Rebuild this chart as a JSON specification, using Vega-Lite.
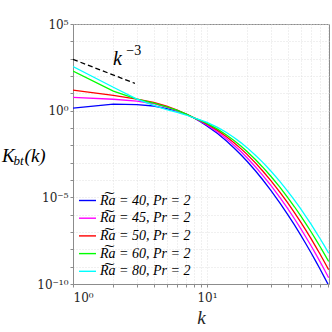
{
  "$schema": "https://vega.github.io/schema/vega-lite/v6.json",
  "width": 256,
  "height": 260,
  "autosize": "none",
  "padding": {"left": 73, "top": 24, "right": 3, "bottom": 48},
  "background": "white",
  "config": {
    "view": {"stroke": "#8c8c8c", "strokeWidth": 1},
    "axis": {
      "domainColor": "#8c8c8c",
      "tickColor": "#8c8c8c",
      "gridColor": "#d9d9d9",
      "gridDash": [1, 2],
      "gridWidth": 0.8,
      "labelFont": "DejaVu Serif",
      "labelFontSize": 12,
      "labelColor": "#262626",
      "titleFont": "Liberation Serif",
      "titleColor": "#262626"
    }
  },
  "datasets": {
    "curves": [
      {"k":1,"K":1.41,"s":"40"},{"k":2,"K":2.40,"s":"40"},{"k":3,"K":2.24,"s":"40"},{"k":4,"K":1.86,"s":"40"},{"k":5,"K":1.32,"s":"40"},{"k":6,"K":0.933,"s":"40"},{"k":7,"K":0.631,"s":"40"},{"k":8,"K":0.380,"s":"40"},{"k":9,"K":0.225,"s":"40"},{"k":10,"K":0.133,"s":"40"},{"k":12,"K":0.0478,"s":"40"},{"k":14,"K":0.0177,"s":"40"},{"k":16,"K":6.86e-3,"s":"40"},{"k":18,"K":2.76e-3,"s":"40"},{"k":20,"K":1.16e-3,"s":"40"},{"k":23,"K":3.40e-4,"s":"40"},{"k":26,"K":1.07e-4,"s":"40"},{"k":30,"K":2.55e-5,"s":"40"},{"k":35,"K":4.84e-6,"s":"40"},{"k":40,"K":1.05e-6,"s":"40"},{"k":45,"K":2.56e-7,"s":"40"},{"k":50,"K":6.84e-8,"s":"40"},{"k":55,"K":1.97e-8,"s":"40"},{"k":60,"K":6.12e-9,"s":"40"},{"k":65,"K":2.03e-9,"s":"40"},{"k":70,"K":7.08e-10,"s":"40"},{"k":75,"K":2.59e-10,"s":"40"},{"k":81,"K":8.26e-11,"s":"40"},
      {"k":1,"K":5.89,"s":"45"},{"k":2,"K":4.57,"s":"45"},{"k":3,"K":3.55,"s":"45"},{"k":4,"K":2.51,"s":"45"},{"k":5,"K":1.585,"s":"45"},{"k":6,"K":0.977,"s":"45"},{"k":7,"K":0.603,"s":"45"},{"k":8,"K":0.380,"s":"45"},{"k":9,"K":0.240,"s":"45"},{"k":10,"K":0.151,"s":"45"},{"k":12,"K":0.0594,"s":"45"},{"k":14,"K":0.0239,"s":"45"},{"k":16,"K":9.86e-3,"s":"45"},{"k":18,"K":4.22e-3,"s":"45"},{"k":20,"K":1.86e-3,"s":"45"},{"k":23,"K":5.81e-4,"s":"45"},{"k":26,"K":1.93e-4,"s":"45"},{"k":30,"K":4.89e-5,"s":"45"},{"k":35,"K":9.93e-6,"s":"45"},{"k":40,"K":2.28e-6,"s":"45"},{"k":45,"K":5.81e-7,"s":"45"},{"k":50,"K":1.61e-7,"s":"45"},{"k":55,"K":4.83e-8,"s":"45"},{"k":60,"K":1.55e-8,"s":"45"},{"k":65,"K":5.27e-9,"s":"45"},{"k":70,"K":1.88e-9,"s":"45"},{"k":75,"K":7.08e-10,"s":"45"},{"k":81,"K":2.31e-10,"s":"45"},
      {"k":1,"K":15.5,"s":"50"},{"k":2,"K":7.59,"s":"50"},{"k":3,"K":4.68,"s":"50"},{"k":4,"K":3.02,"s":"50"},{"k":5,"K":1.82,"s":"50"},{"k":6,"K":1.096,"s":"50"},{"k":7,"K":0.631,"s":"50"},{"k":8,"K":0.380,"s":"50"},{"k":9,"K":0.255,"s":"50"},{"k":10,"K":0.169,"s":"50"},{"k":12,"K":0.0726,"s":"50"},{"k":14,"K":0.0314,"s":"50"},{"k":16,"K":0.0138,"s":"50"},{"k":18,"K":6.25e-3,"s":"50"},{"k":20,"K":2.91e-3,"s":"50"},{"k":23,"K":9.68e-4,"s":"50"},{"k":26,"K":3.40e-4,"s":"50"},{"k":30,"K":9.20e-5,"s":"50"},{"k":35,"K":2.00e-5,"s":"50"},{"k":40,"K":4.90e-6,"s":"50"},{"k":45,"K":1.31e-6,"s":"50"},{"k":50,"K":3.82e-7,"s":"50"},{"k":55,"K":1.19e-7,"s":"50"},{"k":60,"K":3.97e-8,"s":"50"},{"k":65,"K":1.40e-8,"s":"50"},{"k":70,"K":5.18e-9,"s":"50"},{"k":75,"K":2.00e-9,"s":"50"},{"k":81,"K":6.76e-10,"s":"50"},
      {"k":1,"K":195,"s":"60"},{"k":2,"K":13.5,"s":"60"},{"k":3,"K":4.68,"s":"60"},{"k":4,"K":2.75,"s":"60"},{"k":5,"K":1.66,"s":"60"},{"k":6,"K":1.047,"s":"60"},{"k":7,"K":0.631,"s":"60"},{"k":8,"K":0.380,"s":"60"},{"k":9,"K":0.267,"s":"60"},{"k":10,"K":0.185,"s":"60"},{"k":12,"K":0.0857,"s":"60"},{"k":14,"K":0.0396,"s":"60"},{"k":16,"K":0.0185,"s":"60"},{"k":18,"K":8.81e-3,"s":"60"},{"k":20,"K":4.30e-3,"s":"60"},{"k":23,"K":1.52e-3,"s":"60"},{"k":26,"K":5.68e-4,"s":"60"},{"k":30,"K":1.64e-4,"s":"60"},{"k":35,"K":3.86e-5,"s":"60"},{"k":40,"K":1.0e-5,"s":"60"},{"k":45,"K":2.86e-6,"s":"60"},{"k":50,"K":8.75e-7,"s":"60"},{"k":55,"K":2.87e-7,"s":"60"},{"k":60,"K":9.98e-8,"s":"60"},{"k":65,"K":3.67e-8,"s":"60"},{"k":70,"K":1.41e-8,"s":"60"},{"k":75,"K":5.65e-9,"s":"60"},{"k":81,"K":1.99e-9,"s":"60"},
      {"k":1,"K":347,"s":"80"},{"k":2,"K":22.4,"s":"80"},{"k":3,"K":4.68,"s":"80"},{"k":4,"K":2.0,"s":"80"},{"k":5,"K":1.15,"s":"80"},{"k":6,"K":0.794,"s":"80"},{"k":7,"K":0.562,"s":"80"},{"k":8,"K":0.380,"s":"80"},{"k":9,"K":0.287,"s":"80"},{"k":10,"K":0.210,"s":"80"},{"k":12,"K":0.108,"s":"80"},{"k":14,"K":0.0546,"s":"80"},{"k":16,"K":0.0274,"s":"80"},{"k":18,"K":0.0139,"s":"80"},{"k":20,"K":7.13e-3,"s":"80"},{"k":23,"K":2.71e-3,"s":"80"},{"k":26,"K":1.07e-3,"s":"80"},{"k":30,"K":3.32e-4,"s":"80"},{"k":35,"K":8.36e-5,"s":"80"},{"k":40,"K":2.31e-5,"s":"80"},{"k":45,"K":6.90e-6,"s":"80"},{"k":50,"K":2.21e-6,"s":"80"},{"k":55,"K":7.55e-7,"s":"80"},{"k":60,"K":2.72e-7,"s":"80"},{"k":65,"K":1.03e-7,"s":"80"},{"k":70,"K":4.07e-8,"s":"80"},{"k":75,"K":1.68e-8,"s":"80"},{"k":81,"K":6.05e-9,"s":"80"}
    ]
  },
  "encoding": {
    "x": {
      "field": "k", "type": "quantitative",
      "scale": {"type": "log", "domain": [1, 81.5], "nice": false},
      "axis": {
        "values": [1,2,3,4,5,6,7,8,9,10,20,30,40,50,60,70,80],
        "labelExpr": "datum.value == 1 ? '10⁰' : datum.value == 10 ? '10¹' : ''",
        "grid": true, "tickSize": 3, "labelPadding": 5,
        "title": "k", "titleFontSize": 19, "titleFontStyle": "italic", "titleFontWeight": "normal", "titlePadding": 5
      }
    },
    "y": {
      "field": "K", "type": "quantitative",
      "scale": {"type": "log", "domain": [1e-10, 1e5], "nice": false},
      "axis": {
        "values": [1e-10,1e-9,1e-8,1e-7,1e-6,1e-5,1e-4,1e-3,1e-2,1e-1,1,10,100,1000,1e4,1e5],
        "labelExpr": "round(log(datum.value)/LN10) == 5 ? '10⁵' : round(log(datum.value)/LN10) == 0 ? '10⁰' : round(log(datum.value)/LN10) == -5 ? '10⁻⁵' : round(log(datum.value)/LN10) == -10 ? '10⁻¹⁰' : ''",
        "grid": true, "tickSize": 3, "labelPadding": 2, "title": null
      }
    }
  },
  "layer": [
    {
      "data": {"name": "curves"},
      "mark": {"type": "line", "strokeWidth": 1.3, "clip": true},
      "encoding": {
        "color": {
          "field": "s", "type": "nominal",
          "scale": {"domain": ["40","45","50","60","80"], "range": ["#0000ff","#ff00ff","#ff0000","#00ff00","#00ffff"]},
          "legend": {
            "orient": "none", "legendX": 5, "legendY": 167, "title": null,
            "symbolType": "stroke", "symbolSize": 289, "symbolStrokeWidth": 1.4,
            "labelFont": "Liberation Serif", "labelFontSize": 14, "labelFontStyle": "italic", "labelColor": "#000000",
            "labelOffset": 3, "rowPadding": 0.7, "padding": 0,
            "labelExpr": "'R͠a = ' + datum.label + ', Pr = 2'"
          }
        }
      }
    },
    {
      "data": {"values": [{"k": 1, "K": 910}, {"k": 2.9, "K": 37.5}]},
      "mark": {"type": "line", "color": "black", "strokeDash": [5, 3], "strokeWidth": 1.3}
    },
    {
      "data": {"values": [{"k": 1.99, "K": 430, "t": "k"}]},
      "mark": {"type": "text", "font": "Liberation Serif", "fontSize": 20, "fontStyle": "italic", "align": "left", "baseline": "alphabetic", "color": "black"},
      "encoding": {"text": {"field": "t"}}
    },
    {
      "data": {"values": [{"k": 2.5, "K": 1600, "t": "−3"}]},
      "mark": {"type": "text", "font": "Liberation Serif", "fontSize": 14, "align": "left", "baseline": "alphabetic", "color": "black"},
      "encoding": {"text": {"field": "t"}}
    },
    {
      "data": {"values": [{"k": 0.295, "K": 1.13e-3, "t": "K"}]},
      "mark": {"type": "text", "font": "Liberation Serif", "fontSize": 19, "fontStyle": "italic", "align": "left", "baseline": "alphabetic", "color": "black"},
      "encoding": {"text": {"field": "t"}}
    },
    {
      "data": {"values": [{"k": 0.36, "K": 7.31e-4, "t": "bt"}]},
      "mark": {"type": "text", "font": "Liberation Serif", "fontSize": 13, "fontStyle": "italic", "align": "left", "baseline": "alphabetic", "color": "black"},
      "encoding": {"text": {"field": "t"}}
    },
    {
      "data": {"values": [{"k": 0.435, "K": 1.13e-3, "t": "(k)"}]},
      "mark": {"type": "text", "font": "Liberation Serif", "fontSize": 19, "fontStyle": "italic", "align": "left", "baseline": "alphabetic", "color": "black"},
      "encoding": {"text": {"field": "t"}}
    }
  ]
}
